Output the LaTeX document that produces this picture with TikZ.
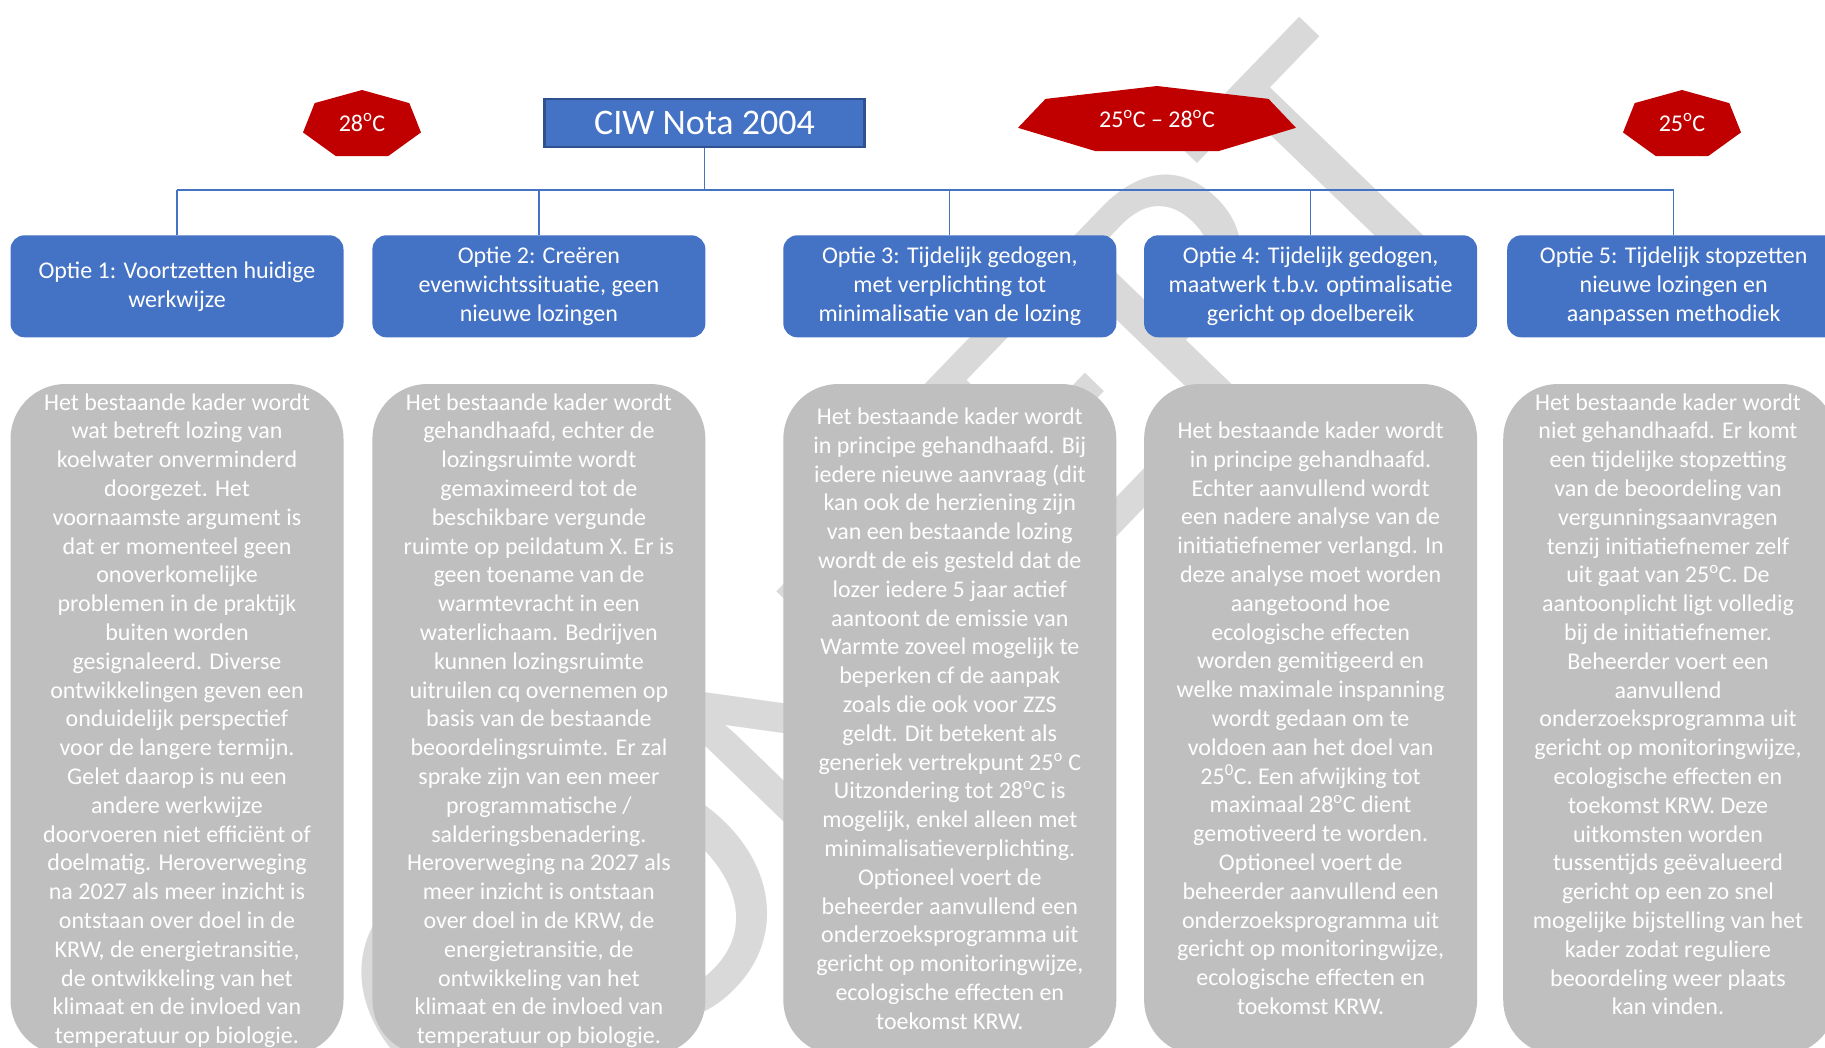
\documentclass[tikz,border=0pt]{standalone}
\usepackage{fontspec}
\setmainfont{Carlito}
\definecolor{cblue}{HTML}{4472C4}
\definecolor{cblueD}{HTML}{2F528F}
\definecolor{cred}{HTML}{C00000}
\definecolor{cgray}{HTML}{BFBFBF}
\definecolor{wmark}{HTML}{D9D9D9}
\newcommand{\bodylines}[1]{\begin{tabular}[t]{@{}c@{}}#1\end{tabular}}
\begin{document}
\begin{tikzpicture}[x=1pt,y=-1pt,
  wmletter/.style={text=wmark, rotate=46, inner sep=0pt, anchor=center, font=\fontsize{380}{380}\selectfont},
  optbox/.style={fill=cblue, rounded corners=14pt, minimum width=333pt, minimum height=102pt, inner sep=0pt, text=white, align=center, font=\fontsize{24}{29}\selectfont},
  bodybox/.style={fill=cgray, rounded corners=55pt, minimum width=333pt, minimum height=671pt, inner sep=0pt},
  bodytext/.style={anchor=base, inner sep=0pt, text=white, font=\fontsize{24}{28.8}\selectfont\color{white}},
  conn/.style={draw=cblue, line width=1.3pt},
  heptxt/.style={text=white, font=\fontsize{24}{28}\selectfont, inner sep=0pt},
  hept/.style={fill=cred}
]
\useasboundingbox (0,0) rectangle (1825,1047);
\fill[white] (0,0) rectangle (1825,1047);
\clip (0,0) rectangle (1825,1047);

% watermark "CONCEPT", letter by letter
\node[wmletter] (wm1) at (467.9,1001.7) {C};
\node[wmletter] (wm2) at (646.5,902.5) {O};
\node[wmletter] (wm3) at (819.2,723.7) {N};
\node[wmletter] (wm4) at (950,562.5) {C};
\node[wmletter] (wm5) at (1057.5,423.1) {E};
\node[wmletter] (wm6) at (1190,291.8) {P};
\node[wmletter] (wm7) at (1325.8,165.3) {T};

% title box
\node[fill=cblue, draw=cblueD, line width=2.5pt, minimum width=320pt, minimum height=48pt, inner sep=0pt, text=white, font=\fontsize{36}{40}\selectfont] (ciw) at (704.5,123) {CIW Nota 2004};

% option boxes
\node[optbox] (o1) at (177,286.3) {Optie 1: Voortzetten huidige\\werkwijze};
\node[optbox] (o2) at (538.9,286.3) {Optie 2: Creëren\\evenwichtssituatie, geen\\nieuwe lozingen};
\node[optbox] (o3) at (949.8,286.3) {Optie 3: Tijdelijk gedogen,\\met verplichting tot\\minimalisatie van de lozing};
\node[optbox] (o4) at (1310.6,286.3) {Optie 4: Tijdelijk gedogen,\\maatwerk t.b.v. optimalisatie\\gericht op doelbereik};
\node[optbox] (o5) at (1673.7,286.3) {Optie 5: Tijdelijk stopzetten\\nieuwe lozingen en\\aanpassen methodiek};

% connectors
\coordinate (bus) at (0,190);
\draw[conn] (ciw.south) -- (ciw.south |- bus);
\draw[conn] (o1.north |- bus) -- (o5.north |- bus);
\foreach \i in {1,...,5} \draw[conn] (o\i.north) -- (o\i.north |- bus);

% heptagons
\fill[hept] (362,90) -- (314.7,103.1) -- (303,132.4) -- (335.7,156) -- (388.3,156) -- (421,132.4) -- (409.3,103.1) -- cycle;
\node[heptxt] (h1) at (362,122.5) {28\textsuperscript{o}C};
\fill[hept] (1157,86) -- (1045.5,98.9) -- (1018,127.8) -- (1095.1,151) -- (1218.9,151) -- (1296,127.8) -- (1268.5,98.9) -- cycle;
\node[heptxt] (h2) at (1157,119) {25\textsuperscript{o}C – 28\textsuperscript{o}C};
\fill[hept] (1682,90) -- (1634.7,103.1) -- (1623,132.4) -- (1655.7,156) -- (1708.3,156) -- (1741,132.4) -- (1729.3,103.1) -- cycle;
\node[heptxt] (h3) at (1682,122.5) {25\textsuperscript{o}C};

% body boxes
\node[bodybox] (b1) at (177,719.5) {};
\node[bodybox] (b2) at (538.9,719.5) {};
\node[bodybox] (b3) at (949.8,719.5) {};
\node[bodybox] (b4) at (1310.6,719.5) {};
\node[bodybox] (b5) at (1669.7,719.5) {};

\node[bodytext] (t1) at (177,410) {\bodylines{Het bestaande kader wordt\\wat betreft lozing van\\koelwater onverminderd\\doorgezet. Het\\voornaamste argument is\\dat er momenteel geen\\onoverkomelijke\\problemen in de praktijk\\buiten worden\\gesignaleerd. Diverse\\ontwikkelingen geven een\\onduidelijk perspectief\\voor de langere termijn.\\Gelet daarop is nu een\\andere werkwijze\\doorvoeren niet efficiënt of\\doelmatig. Heroverweging\\na 2027 als meer inzicht is\\ontstaan over doel in de\\KRW, de energietransitie,\\de ontwikkeling van het\\klimaat en de invloed van\\temperatuur op biologie.}};

\node[bodytext] (t2) at (538.9,410) {\bodylines{Het bestaande kader wordt\\gehandhaafd, echter de\\lozingsruimte wordt\\gemaximeerd tot de\\beschikbare vergunde\\ruimte op peildatum X. Er is\\geen toename van de\\warmtevracht in een\\waterlichaam. Bedrijven\\kunnen lozingsruimte\\uitruilen cq overnemen op\\basis van de bestaande\\beoordelingsruimte. Er zal\\sprake zijn van een meer\\programmatische /\\salderingsbenadering.\\Heroverweging na 2027 als\\meer inzicht is ontstaan\\over doel in de KRW, de\\energietransitie, de\\ontwikkeling van het\\klimaat en de invloed van\\temperatuur op biologie.}};

\node[bodytext] (t3) at (949.8,424.5) {\bodylines{Het bestaande kader wordt\\in principe gehandhaafd. Bij\\iedere nieuwe aanvraag (dit\\kan ook de herziening zijn\\van een bestaande lozing\\wordt de eis gesteld dat de\\lozer iedere 5 jaar actief\\aantoont de emissie van\\Warmte zoveel mogelijk te\\beperken cf de aanpak\\zoals die ook voor ZZS\\geldt. Dit betekent als\\generiek vertrekpunt 25\textsuperscript{o} C\\Uitzondering tot 28\textsuperscript{o}C is\\mogelijk, enkel alleen met\\minimalisatieverplichting.\\Optioneel voert de\\beheerder aanvullend een\\onderzoeksprogramma uit\\gericht op monitoringwijze,\\ecologische effecten en\\toekomst KRW.}};

\node[bodytext] (t4) at (1310.6,438.5) {\bodylines{Het bestaande kader wordt\\in principe gehandhaafd.\\Echter aanvullend wordt\\een nadere analyse van de\\initiatiefnemer verlangd. In\\deze analyse moet worden\\aangetoond hoe\\ecologische effecten\\worden gemitigeerd en\\welke maximale inspanning\\wordt gedaan om te\\voldoen aan het doel van\\25\textsuperscript{0}C. Een afwijking tot\\maximaal 28\textsuperscript{o}C dient\\gemotiveerd te worden.\\Optioneel voert de\\beheerder aanvullend een\\onderzoeksprogramma uit\\gericht op monitoringwijze,\\ecologische effecten en\\toekomst KRW.}};

\node[bodytext] (t5) at (1668,410) {\bodylines{Het bestaande kader wordt\\niet gehandhaafd. Er komt\\een tijdelijke stopzetting\\van de beoordeling van\\vergunningsaanvragen\\tenzij initiatiefnemer zelf\\uit gaat van 25\textsuperscript{o}C. De\\aantoonplicht ligt volledig\\bij de initiatiefnemer.\\Beheerder voert een\\aanvullend\\onderzoeksprogramma uit\\gericht op monitoringwijze,\\ecologische effecten en\\toekomst KRW. Deze\\uitkomsten worden\\tussentijds geëvalueerd\\gericht op een zo snel\\mogelijke bijstelling van het\\kader zodat reguliere\\beoordeling weer plaats\\kan vinden.}};
\end{tikzpicture}
\end{document}
